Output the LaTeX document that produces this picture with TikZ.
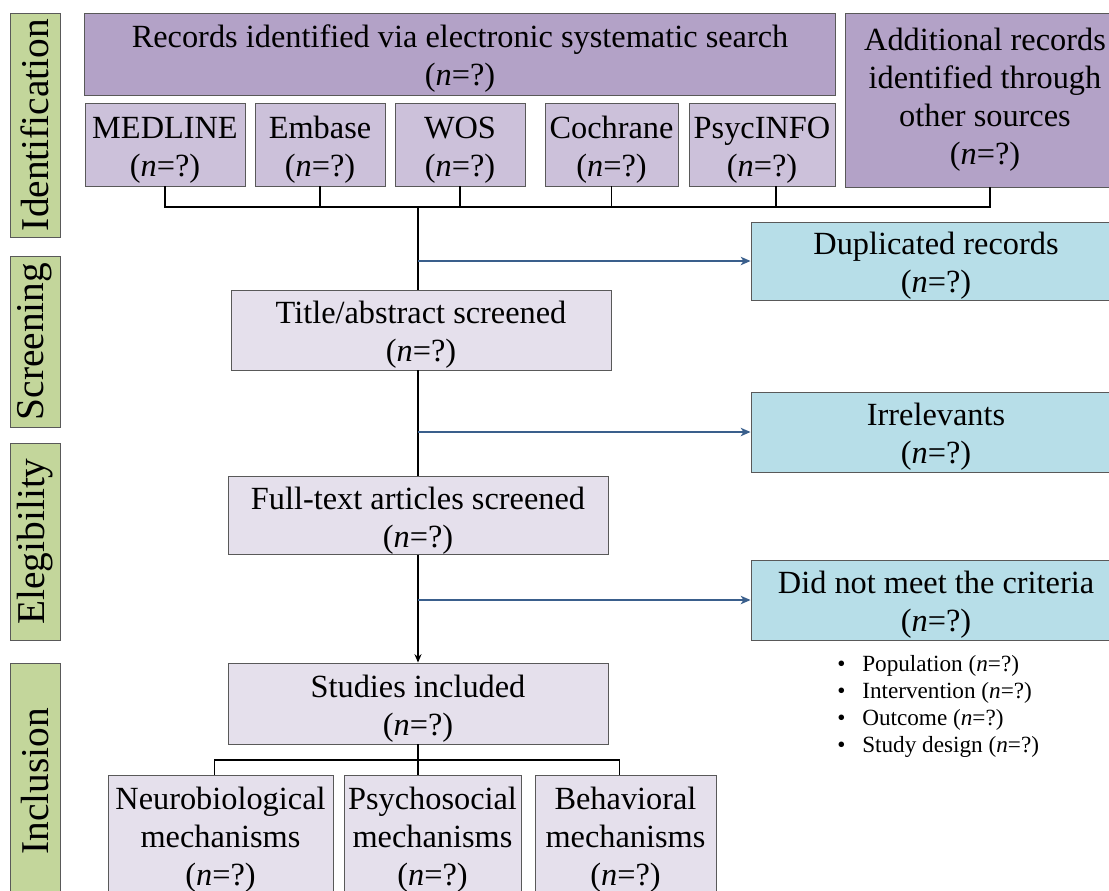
\documentclass[tikz,border=0pt]{standalone}
\usepackage{fontspec}
\setmainfont{Liberation Serif}
\usetikzlibrary{arrows.meta}
\definecolor{darkpurple}{HTML}{B3A2C7}
\definecolor{midpurple}{HTML}{CCC1DA}
\definecolor{palepurple}{HTML}{E5E0EC}
\definecolor{paleblue}{HTML}{B7DEE8}
\definecolor{olive}{HTML}{C3D69B}
\definecolor{arrowblue}{HTML}{3A5F8C}
\definecolor{edge}{HTML}{595959}
\newcommand{\nq}{(\textit{n}=?)}
\newcommand{\tstrut}{\rule{0pt}{23pt}}
\tikzset{
	box/.style={draw=edge,line width=0.6pt,inner sep=0pt,align=center,
		font=\fontsize{23}{27}\selectfont},
	phase/.style={draw=edge,line width=0.6pt,fill=olive,inner sep=0pt,rotate=90,
		minimum height=1.25cm,font=\fontsize{28}{32}\selectfont},
	flow/.style={line width=1pt,black},
	side/.style={line width=1.2pt,arrowblue,-{Stealth[length=7pt,width=6pt,inset=2pt]}}
}
\begin{document}
\begin{tikzpicture}[x=0.025cm,y=-0.025cm]
	\useasboundingbox(0,0)rectangle(1109,890);
	\clip(0,0)rectangle(1109,890);
	\node[phase,minimum width=5.6cm](pid)at(35,125){Identification};
	\node[phase,minimum width=4.275cm](pscr)at(35,341.5){Screening};
	\node[phase,minimum width=4.925cm](pel)at(35,541.5){Elegibility};
	\node[phase,minimum width=5.925cm](pinc)at(35,781.5){Inclusion};
	\node[box,fill=darkpurple,minimum width=18.75cm,minimum height=2.05cm](search)at(460,54)
		{\tstrut Records identified via electronic systematic search\\\nq};
	\node[box,fill=darkpurple,minimum width=7cm,minimum height=4.35cm](other)at(985,100)
		{Additional records\\identified through\\other sources\\\nq};
	\node[box,fill=midpurple,minimum width=4cm,minimum height=2.075cm](medline)at(165,144.5){\tstrut MEDLINE\\\nq};
	\node[box,fill=midpurple,minimum width=3.25cm,minimum height=2.075cm](embase)at(320,144.5){\tstrut Embase\\\nq};
	\node[box,fill=midpurple,minimum width=3.25cm,minimum height=2.075cm](wos)at(460,144.5){\tstrut WOS\\\nq};
	\node[box,fill=midpurple,minimum width=3.325cm,minimum height=2.075cm](cochrane)at(611.5,144.5){\tstrut Cochrane\\\nq};
	\node[box,fill=midpurple,minimum width=3.65cm,minimum height=2.075cm](psycinfo)at(762,144.5){\tstrut PsycINFO\\\nq};
	\node[box,fill=paleblue,minimum width=9.25cm,minimum height=1.95cm](dup)at(936,261){\tstrut Duplicated records\\\nq};
	\node[box,fill=palepurple,minimum width=9.5cm,minimum height=2cm](title)at(421,330){\tstrut Title/abstract screened\\\nq};
	\node[box,fill=paleblue,minimum width=9.25cm,minimum height=2cm](irr)at(936,432){\tstrut Irrelevants\\\nq};
	\node[box,fill=palepurple,minimum width=9.5cm,minimum height=1.925cm](full)at(418,515.5){\tstrut Full-text articles screened\\\nq};
	\node[box,fill=paleblue,minimum width=9.25cm,minimum height=2cm](crit)at(936,600){\tstrut Did not meet the criteria\\\nq};
	\node[box,fill=palepurple,minimum width=9.5cm,minimum height=2.025cm](studies)at(418,703.5){\tstrut Studies included\\\nq};
	\node[box,fill=palepurple,minimum width=5.625cm,minimum height=3.25cm](neuro)at(220.5,840){Neurobiological\\mechanisms\\\nq};
	\node[box,fill=palepurple,minimum width=4.425cm,minimum height=3.25cm](psycho)at(432.5,840){Psychosocial\\mechanisms\\\nq};
	\node[box,fill=palepurple,minimum width=4.525cm,minimum height=3.25cm](behav)at(625.5,840){Behavioral\\mechanisms\\\nq};
	\node[anchor=north west,inner sep=0pt,font=\fontsize{16.5}{19.2}\selectfont](reasons)at(837,652){%
		\begin{tabular}{@{}l@{\hspace{12pt}}l@{}}
		\textbullet&Population \nq\\
		\textbullet&Intervention \nq\\
		\textbullet&Outcome \nq\\
		\textbullet&Study design \nq
		\end{tabular}};
	\coordinate(bus)at(418,207);
	\coordinate(fork)at(418,760);
	\draw[flow](medline.south)|-(bus);
	\draw[flow](embase.south)--(embase.south|-bus);
	\draw[flow](wos.south)--(wos.south|-bus);
	\draw[flow](cochrane.south)--(cochrane.south|-bus);
	\draw[flow]([xshift=0.35cm]psycinfo.south)--([xshift=0.35cm]psycinfo.south|-bus);
	\draw[flow]([xshift=0.125cm]other.south)|-(bus);
	\draw[flow](bus)--(bus|-title.north);
	\draw[flow](bus|-title.south)--(full.north);
	\draw[flow,-{Stealth[length=6pt,width=5pt,inset=2pt]}](full.south)--(studies.north);
	\draw[side](bus|-dup.west)--(dup.west);
	\draw[side](bus|-irr.west)--(irr.west);
	\draw[side](bus|-crit.west)--(crit.west);
	\draw[flow](studies.south)--(studies.south|-psycho.north);
	\draw[flow]([xshift=-0.15cm]neuro.north)|-(fork)-|([xshift=-0.15cm]behav.north);
\end{tikzpicture}
\end{document}
